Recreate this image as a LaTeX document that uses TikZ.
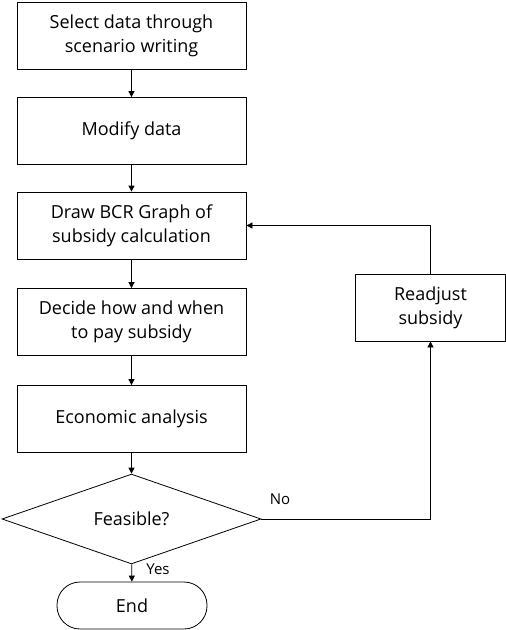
\documentclass[tikz,border=0pt]{standalone}
\usepackage{fontspec}
\setmainfont{Open Sans}
\usetikzlibrary{shapes.geometric,arrows.meta}
\begin{document}
\begin{tikzpicture}[x=1pt,y=-1pt,
  every node/.style={font=\fontsize{18}{24}\selectfont},
  box/.style={draw,line width=0.8pt,minimum width=229pt,minimum height=67pt,align=center,inner sep=0pt},
  decision/.style={draw,diamond,line width=0.8pt,minimum width=259pt,minimum height=70pt,inner sep=0pt},
  term/.style={draw,line width=0.8pt,rounded corners=23pt,minimum width=150pt,minimum height=47pt,inner sep=0pt},
  conn/.style={line width=0.8pt,-{Triangle[length=6pt,width=6pt]}},
  lbl/.style={font=\fontsize{15}{18}\selectfont}]
\useasboundingbox (0,0) rectangle (506,630);
\node[box] (b1) at (131.5,36) {Select data through\\scenario writing};
\node[box] (b2) at (131.5,131) {Modify data};
\node[box] (b3) at (131.5,225.5) {Draw BCR Graph of\\subsidy calculation};
\node[box] (b4) at (131.5,322) {Decide how and when\\to pay subsidy};
\node[box] (b5) at (131.5,419) {Economic analysis};
\node[decision] (d) at (131.5,519) {Feasible?};
\node[term] (e) at (132,605.5) {End};
\node[box,minimum width=150pt] (r) at (430.5,307.5) {Readjust\\subsidy};
\draw[conn] (b1) -- (b2);
\draw[conn] (b2) -- (b3);
\draw[conn] (b3) -- (b4);
\draw[conn] (b4) -- (b5);
\draw[conn] (b5) -- (d);
\draw[conn] (d) -- (e);
\draw[conn] (d.east) -| (r.south);
\draw[conn] (r.north) |- (b3.east);
\node[lbl] (no) at (280,499) {No};
\node[lbl] (yes) at (158,569) {Yes};
\end{tikzpicture}
\end{document}
